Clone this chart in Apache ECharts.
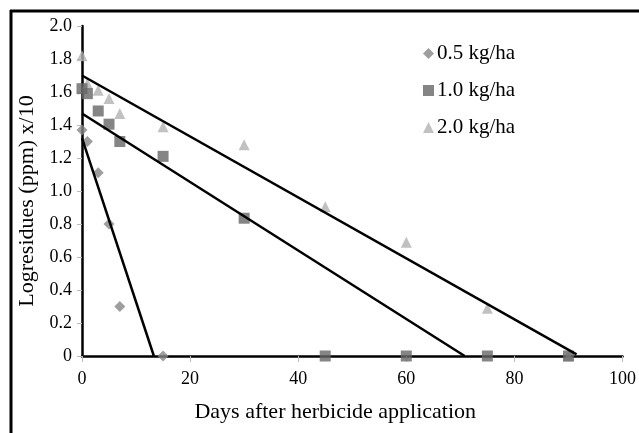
<!DOCTYPE html>
<html>
<head>
<meta charset="utf-8">
<script src="https://cdn.jsdelivr.net/npm/echarts@6/dist/echarts.min.js"></script>
<style>
html,body{margin:0;padding:0;background:#fff;}
#c{width:639px;height:433px;}
</style>
</head>
<body>
<div id="c"></div>
<script>
// Data
var seriesNames = ['0.5 kg/ha', '1.0 kg/ha', '2.0 kg/ha'];
var days05 = [0, 1, 3, 5, 7, 15];
var vals05 = [1.37, 1.30, 1.11, 0.80, 0.30, 0];
var days10 = [0, 1, 3, 5, 7, 15, 30, 45, 60, 75, 90];
var vals10 = [1.62, 1.59, 1.485, 1.405, 1.30, 1.21, 0.835, 0, 0, 0, 0];
var days20 = [0, 1, 3, 5, 7, 15, 30, 45, 60, 75, 90];
var vals20 = [1.82, 1.65, 1.61, 1.56, 1.47, 1.39, 1.28, 0.905, 0.69, 0.29, 0];
// Trend line endpoints [x, y]
var trend05 = [[0, 1.32], [13.3, 0]];
var trend10 = [[0, 1.47], [70.8, 0]];
var trend20 = [[0, 1.70], [91.5, 0.01]];
var yTickLabels = ['0', '0.2', '0.4', '0.6', '0.8', '1.0', '1.2', '1.4', '1.6', '1.8', '2.0'];
var xTickLabels = ['0', '20', '40', '60', '80', '100'];

function pairs(xs, ys) { return xs.map(function (x, i) { return [x, ys[i]]; }); }

var FONT = 'Liberation Serif';
var chart = echarts.init(document.getElementById('c'), null, {renderer: 'canvas'});
chart.setOption({
  animation: false,
  backgroundColor: '#fff',
  textStyle: {fontFamily: FONT},
  grid: {left: 82, right: 8, top: 26, bottom: 77, containLabel: false},
  legend: {
    orient: 'vertical',
    left: 418, top: 38,
    itemWidth: 11, itemHeight: 11, itemGap: 16,
    data: seriesNames,
    textStyle: {fontFamily: FONT, fontSize: 21, color: '#000', padding: [0, 0, 0, -2]}
  },
  xAxis: {
    type: 'value', min: 0, max: 100, interval: 20,
    name: 'Days after herbicide application',
    nameLocation: 'middle', nameGap: 45,
    nameTextStyle: {fontFamily: FONT, fontSize: 22, color: '#000', padding: [0, 34, 0, 0]},
    axisLine: {show: true, onZero: false, lineStyle: {color: '#000', width: 2.5}},
    axisTick: {show: true, length: 6, lineStyle: {color: '#bbb'}},
    axisLabel: {fontFamily: FONT, fontSize: 18, color: '#000', margin: 14,
      formatter: function (v) { return xTickLabels[Math.round(v / 20)]; }},
    splitLine: {show: false}
  },
  yAxis: {
    type: 'value', min: 0, max: 2, interval: 0.2,
    name: 'Logresidues (ppm) x/10',
    nameLocation: 'middle', nameGap: 44,
    nameTextStyle: {fontFamily: FONT, fontSize: 22, color: '#000', padding: [0, 20, 0, 0]},
    axisLine: {show: true, onZero: false, lineStyle: {color: '#000', width: 2.5}},
    axisTick: {show: true, length: 5, lineStyle: {color: '#bbb'}},
    axisLabel: {fontFamily: FONT, fontSize: 18, color: '#000', margin: 10,
      formatter: function (v) { return yTickLabels[Math.round(v / 0.2)]; }},
    splitLine: {show: false}
  },
  series: [
    {type: 'line', data: trend05, symbol: 'none', silent: true, z: 3,
      lineStyle: {color: '#000', width: 2.5}, itemStyle: {color: '#000'}},
    {type: 'line', data: trend10, symbol: 'none', silent: true, z: 3,
      lineStyle: {color: '#000', width: 2.5}, itemStyle: {color: '#000'}},
    {type: 'line', data: trend20, symbol: 'none', silent: true, z: 3,
      lineStyle: {color: '#000', width: 2.5}, itemStyle: {color: '#000'}},
    {name: seriesNames[2], type: 'scatter', data: pairs(days20, vals20), symbol: 'triangle',
      symbolSize: 11, itemStyle: {color: '#b2b2b2'}, z: 2},
    {name: seriesNames[1], type: 'scatter', data: pairs(days10, vals10), symbol: 'rect',
      symbolSize: 11, itemStyle: {color: '#666666'}, z: 2},
    {name: seriesNames[0], type: 'scatter', data: pairs(days05, vals05), symbol: 'diamond',
      symbolSize: 11, itemStyle: {color: '#868686'}, z: 2}
  ],
  graphic: [
    {type: 'line', shape: {x1: 10, y1: 11, x2: 639, y2: 11}, style: {stroke: '#000', lineWidth: 3}},
    {type: 'line', shape: {x1: 11, y1: 10, x2: 11, y2: 433}, style: {stroke: '#000', lineWidth: 3}}
  ]
});
</script>
</body>
</html>
